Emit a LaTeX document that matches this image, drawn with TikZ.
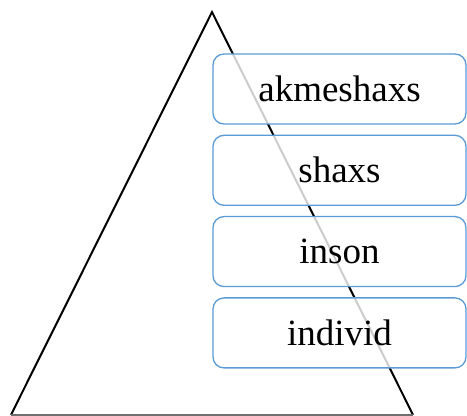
\documentclass[tikz,border=0pt]{standalone}
\usepackage{fontspec}
\setmainfont{Liberation Serif}
\usetikzlibrary{positioning}
\definecolor{myBlue}{HTML}{5B9BD5}
\definecolor{myGray}{HTML}{707070}

\begin{document}
\begin{tikzpicture}[x=1pt, y=1pt]
	\tikzset{Stufe/.style = {draw=myBlue, line width=1.3pt, rounded corners=11pt, fill=white, fill opacity=0.8, text opacity=1, minimum width=253pt, minimum height=70pt, inner sep=0pt, font=\fontsize{37}{44}\selectfont}}
	\useasboundingbox (0,0) rectangle (467,416);
	
	% Dreieck
	\coordinate (top) at (212,404);
	\coordinate (left) at (11,1.2);
	\coordinate (right) at (413,1.2);
	\draw[line width=2pt] (left) -- (top) -- (right);
	\draw[myGray, line width=2pt] (left) -- (right);
	
	% Stufen
	\node[Stufe] (akme) at (339.5,327) {akmeshaxs};
	\node[Stufe, below=10pt of akme] (shaxs) {shaxs};
	\node[Stufe, below=10pt of shaxs] (inson) {inson};
	\node[Stufe, below=10pt of inson] (individ) {individ};
	
\end{tikzpicture}
\end{document}
